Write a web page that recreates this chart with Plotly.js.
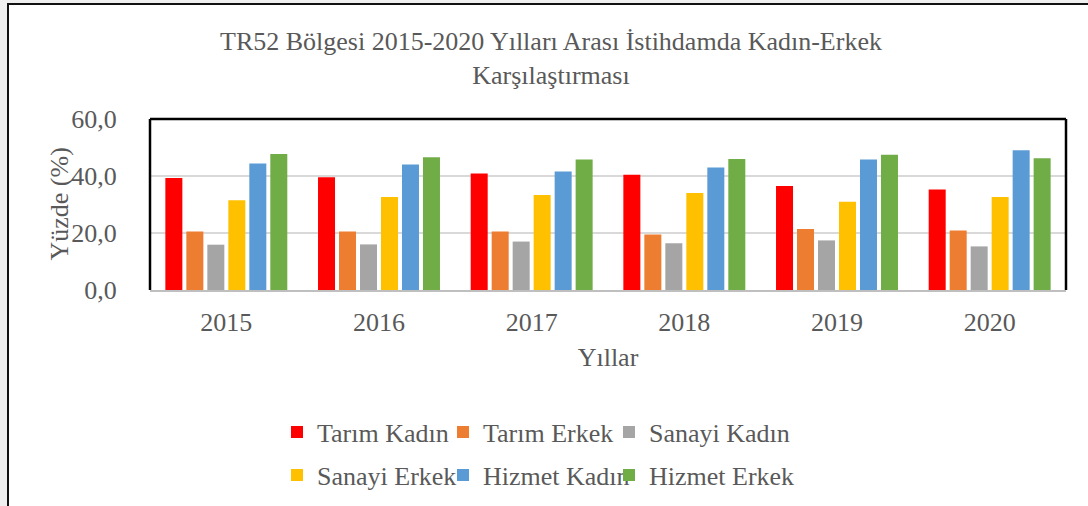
<!DOCTYPE html>
<html>
<head>
<meta charset="utf-8">
<script src="https://cdn.plot.ly/plotly-3.0.1.min.js"></script>
<style>
html,body{margin:0;padding:0;background:#efefef;}
#frame{position:absolute;left:7px;top:3px;width:1081px;height:503px;background:#fff;border-left:2px solid #111;border-top:2px solid #111;box-sizing:border-box;}
#chart{position:absolute;left:0;top:0;width:1088px;height:506px;}
</style>
</head>
<body>
<div id="frame"></div>
<div id="chart"></div>
<script>
const years = ['2015','2016','2017','2018','2019','2020'];
const tarimKadin  = [39.3, 39.6, 40.9, 40.4, 36.5, 35.3];
const tarimErkek  = [20.5, 20.5, 20.5, 19.5, 21.4, 20.9];
const sanayiKadin = [15.9, 16.0, 17.0, 16.4, 17.4, 15.3];
const sanayiErkek = [31.5, 32.6, 33.3, 34.0, 31.0, 32.6];
const hizmetKadin = [44.4, 44.0, 41.6, 43.0, 45.8, 49.0];
const hizmetErkek = [47.7, 46.6, 45.8, 46.0, 47.5, 46.2];
const seriesNames = ['Tarım Kadın','Tarım Erkek','Sanayi Kadın','Sanayi Erkek','Hizmet Kadın','Hizmet Erkek'];
const yTicks = [0, 20, 40, 60];
const yTickLabels = ['0,0','20,0','40,0','60,0'];

const seriesData = [tarimKadin, tarimErkek, sanayiKadin, sanayiErkek, hizmetKadin, hizmetErkek];
const colors = ['#FF0000','#ED7D31','#A5A5A5','#FFC000','#5B9BD5','#70AD47'];
const FONT = '"Liberation Serif", "Times New Roman", serif';
const TXT = '#595959';

const traces = seriesData.map((vals, i) => {
  const t = {
    type: 'bar',
    name: seriesNames[i],
    x: years,
    y: vals,
    marker: {color: colors[i]},
    legend: i < 3 ? 'legend' : 'legend2',
    hoverinfo: 'y+name'
  };
  if (i === 2 || i === 5) t.legendwidth = 170;
  return t;
});

const legendCommon = {
  orientation: 'h',
  xref: 'container', yref: 'container',
  xanchor: 'left', yanchor: 'middle',
  entrywidth: 121, entrywidthmode: 'pixels',
  font: {family: FONT, size: 26, color: TXT},
  bgcolor: 'rgba(0,0,0,0)',
  traceorder: 'normal'
};

const layout = {
  width: 1088, height: 506,
  paper_bgcolor: 'rgba(0,0,0,0)',
  plot_bgcolor: '#fff',
  margin: {l: 150, r: 22, t: 119, b: 216},
  font: {family: FONT, size: 26, color: TXT},
  title: {
    text: 'TR52 Bölgesi 2015-2020 Yılları Arası İstihdamda Kadın-Erkek<br>Karşılaştırması',
    font: {family: FONT, size: 26, color: TXT},
    xref: 'container', x: 551/1088, xanchor: 'center',
    yref: 'container', y: 1 - 50/506, yanchor: 'top'
  },
  barmode: 'group',
  bargap: 0.175,
  bargroupgap: 0.19,
  xaxis: {
    type: 'category',
    showgrid: false,
    showline: true, linecolor: '#bfbfbf', linewidth: 2,
    ticks: 'outside', ticklen: 8, tickcolor: 'rgba(0,0,0,0)',
    tickfont: {family: FONT, size: 26, color: TXT},
    title: {text: 'Yıllar', font: {family: FONT, size: 26, color: TXT}, standoff: 12},
    fixedrange: true
  },
  yaxis: {
    range: [0, 60],
    tickvals: yTicks, ticktext: yTickLabels,
    showgrid: true, gridcolor: '#d9d9d9', gridwidth: 2,
    zeroline: false,
    showline: false,
    ticks: 'outside', ticklen: 27, tickcolor: 'rgba(0,0,0,0)',
    tickfont: {family: FONT, size: 26, color: TXT},
    fixedrange: true
  },
  annotations: [
    {text: 'Yüzde (%)', textangle: -90, showarrow: false,
     xref: 'paper', x: (59 - 150) / 916, xanchor: 'center',
     yref: 'paper', y: 0.5, yanchor: 'middle',
     font: {family: FONT, size: 26, color: TXT}}
  ],
  shapes: [
    {type: 'line', xref: 'paper', yref: 'paper', x0: 0, x1: 1, y0: 1, y1: 1, line: {color: '#000', width: 2.5}},
    {type: 'line', xref: 'paper', yref: 'paper', x0: 0, x1: 0, y0: 0, y1: 1, line: {color: '#000', width: 2.5}},
    {type: 'line', xref: 'paper', yref: 'paper', x0: 1, x1: 1, y0: 0, y1: 1, line: {color: '#000', width: 2.5}}
  ],
  showlegend: true,
  legend: Object.assign({}, legendCommon, {x: 277/1088, y: 74/506}),
  legend2: Object.assign({}, legendCommon, {x: 277/1088, y: 31/506})
};

Plotly.newPlot('chart', traces, layout, {displayModeBar: false});
</script>
</body>
</html>
